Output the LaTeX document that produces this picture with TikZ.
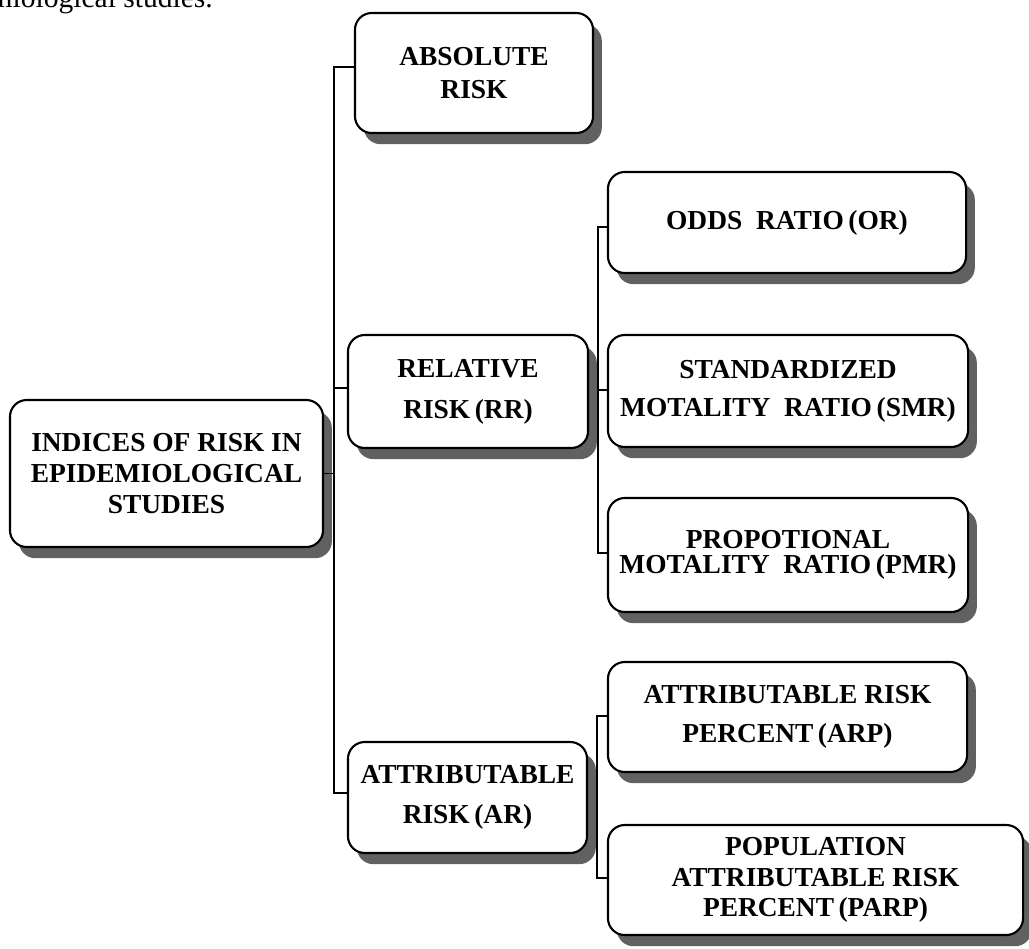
\documentclass[tikz,border=0pt]{standalone}
\usepackage{fontspec}
\setmainfont{Liberation Serif}
\usetikzlibrary{shadows}
\newcommand{\bxf}[1]{\fontsize{19.5}{#1}\selectfont\bfseries}
\begin{document}
\begin{tikzpicture}[x=0.025cm,y=-0.025cm,
  box/.style={draw, line width=1.5pt, rounded corners=0.42cm, fill=white,
    align=center, inner sep=0pt,
    drop shadow={shadow xshift=0.22cm, shadow yshift=-0.28cm, fill=black!62, opacity=1}},
  link/.style={line width=1.2pt}]
\useasboundingbox (0,0) rectangle (1029,948);
% caption fragment
\node[font=\fontsize{21}{25}\selectfont, anchor=base east, inner sep=0pt] (cap) at (213,7) {epidemiological studies.};
% boxes
\node[box, font=\bxf{22}, minimum width=7.825cm, minimum height=3.675cm] (root) at (166.5,473.5)
  {INDICES OF RISK IN\\EPIDEMIOLOGICAL\\STUDIES};
\node[box, font=\bxf{23.5}, minimum width=5.95cm, minimum height=3.0cm] (abs) at (474,73)
  {ABSOLUTE\\RISK};
\node[box, font=\bxf{29}, minimum width=6.0cm, minimum height=2.825cm] (rr) at (468,391.5)
  {RELATIVE\\RISK\,(RR)};
\node[box, font=\bxf{28.5}, minimum width=5.975cm, minimum height=2.775cm] (ar) at (467.5,797.5)
  {ATTRIBUTABLE\\RISK\,(AR)};
\node[box, font=\bxf{24}, minimum width=8.95cm, minimum height=2.525cm] (or) at (787,222.5)
  {ODDS~~RATIO\,(OR)};
\node[box, font=\bxf{27}, minimum width=9.0cm, minimum height=2.8cm] (smr) at (788,391)
  {STANDARDIZED\\MOTALITY~~RATIO\,(SMR)};
\node[box, font=\bxf{18}, minimum width=9.0cm, minimum height=2.85cm] (pmr) at (788,555)
  {PROPOTIONAL\\MOTALITY~~RATIO\,(PMR)};
\node[box, font=\bxf{27.5}, minimum width=8.975cm, minimum height=2.75cm] (arp) at (787.5,717)
  {ATTRIBUTABLE RISK\\PERCENT\,(ARP)};
\node[box, font=\bxf{21.5}, minimum width=10.375cm, minimum height=2.75cm] (parp) at (815.5,880)
  {POPULATION\\ATTRIBUTABLE RISK\\PERCENT\,(PARP)};
% spine coordinates
\coordinate (a1) at (334,67);
\coordinate (a2) at (334,388);
\coordinate (a3) at (334,473.5);
\coordinate (a4) at (334,793);
\coordinate (b1) at (598,227);
\coordinate (b2) at (598,390);
\coordinate (b3) at (598,553);
\coordinate (c1) at (597,716);
\coordinate (c2) at (597,878);
% connectors
\draw[link] (abs.west |- a1) -- (a1) -- (a4) -- (ar.west |- a4);
\draw[link] (a2) -- (rr.west |- a2);
\draw[link] (root.east |- a3) -- (a3);
\draw[link] (or.west |- b1) -- (b1) -- (b3) -- (pmr.west |- b3);
\draw[link] (b2) -- (smr.west |- b2);
\draw[link] (arp.west |- c1) -- (c1) -- (c2) -- (parp.west |- c2);
\end{tikzpicture}
\end{document}
